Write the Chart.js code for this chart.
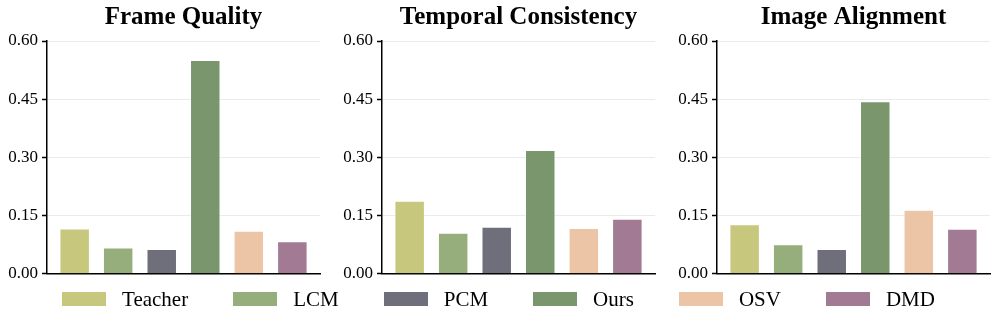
<!DOCTYPE html>
<html>
<head>
<meta charset="utf-8">
<script src="https://cdn.jsdelivr.net/npm/chart.js@4.4.1/dist/chart.umd.min.js"></script>
<style>
  body { margin: 0; background: #fff; width: 997px; height: 327px; position: relative; overflow: hidden; }
  .panel { position: absolute; top: 0; }
  #legend {
    position: absolute; top: 286px; left: 0; width: 997px; height: 26px;
    display: flex; justify-content: center; align-items: center;
    font-family: 'Liberation Serif', 'Times New Roman', serif; font-size: 21px; color: #000;
  }
  .item { display: flex; align-items: center; margin: 0 22.5px; }
  .swatch { width: 44px; height: 14px; margin-right: 16px; }
</style>
</head>
<body>
<canvas id="c0" class="panel" width="325" height="288" style="left:0px"></canvas>
<canvas id="c1" class="panel" width="325" height="288" style="left:335px"></canvas>
<canvas id="c2" class="panel" width="325" height="288" style="left:670px"></canvas>
<div id="legend"></div>
<script>
// datos
const methods = ['Teacher', 'LCM', 'PCM', 'Ours', 'OSV', 'DMD'];
const colors = ['#c7c77e', '#96ae7b', '#6f6e7b', '#7a966d', '#ebc5a5', '#a27a94'];
const panelTitles = ['Frame Quality', 'Temporal Consistency', 'Image Alignment'];
const frameQuality = [0.117, 0.068, 0.064, 0.551, 0.111, 0.084];
const temporalConsistency = [0.188, 0.106, 0.121, 0.319, 0.118, 0.142];
const imageAlignment = [0.128, 0.076, 0.064, 0.445, 0.165, 0.116];
const yTicks = [0, 0.15, 0.30, 0.45, 0.60];

const serif = "'Liberation Serif', 'Times New Roman', serif";
const panels = [frameQuality, temporalConsistency, imageAlignment];

panels.forEach((values, p) => {
    const ctx = document.getElementById('c' + p).getContext('2d');
    new Chart(ctx, {
        type: 'bar',
        data: {
            datasets: methods.map((m, i) => ({
                label: m,
                data: [{ x: i, y: values[i] }],
                backgroundColor: colors[i],
                borderColor: 'rgba(255,255,255,0.45)',
                borderWidth: 1,
                barPercentage: 0.7,
                categoryPercentage: 1,
                grouped: false
            }))
        },
        options: {
            responsive: false,
            animation: false,
            layout: { padding: { left: 0, right: 5, top: 0, bottom: 0 } },
            plugins: {
                legend: { display: false },
                tooltip: { enabled: false },
                title: {
                    display: true,
                    text: panelTitles[p],
                    fullSize: false,
                    color: '#000',
                    font: { family: serif, size: 25, weight: 'bold' },
                    padding: { top: 3, bottom: 8 }
                }
            },
            scales: {
                x: {
                    type: 'linear',
                    offset: false,
                    min: -0.635,
                    max: methods.length - 1 + 0.635,
                    grid: { display: false },
                    ticks: { display: false },
                    border: { color: '#000', width: 1.5 },
                    afterFit: s => { s.height = 12; }
                },
                y: {
                    min: 0,
                    max: 0.6,
                    afterBuildTicks: s => { s.ticks = yTicks.map(v => ({ value: v })); },
                    ticks: {
                        color: '#000',
                        padding: 4,
                        font: { family: serif, size: 17 },
                        callback: v => v.toFixed(2)
                    },
                    grid: { color: '#ebebeb', lineWidth: 1, tickColor: '#000', tickLength: 5, tickWidth: 1.5 },
                    border: { color: '#000', width: 1.5 },
                    afterFit: s => { s.width = 47; }
                }
            }
        }
    });
});

// leyenda comun abajo
const legend = document.getElementById('legend');
methods.forEach((m, i) => {
    const item = document.createElement('div');
    item.className = 'item';
    const sw = document.createElement('div');
    sw.className = 'swatch';
    sw.style.background = colors[i];
    const label = document.createElement('span');
    label.textContent = m;
    item.appendChild(sw);
    item.appendChild(label);
    legend.appendChild(item);
});
</script>
</body>
</html>
